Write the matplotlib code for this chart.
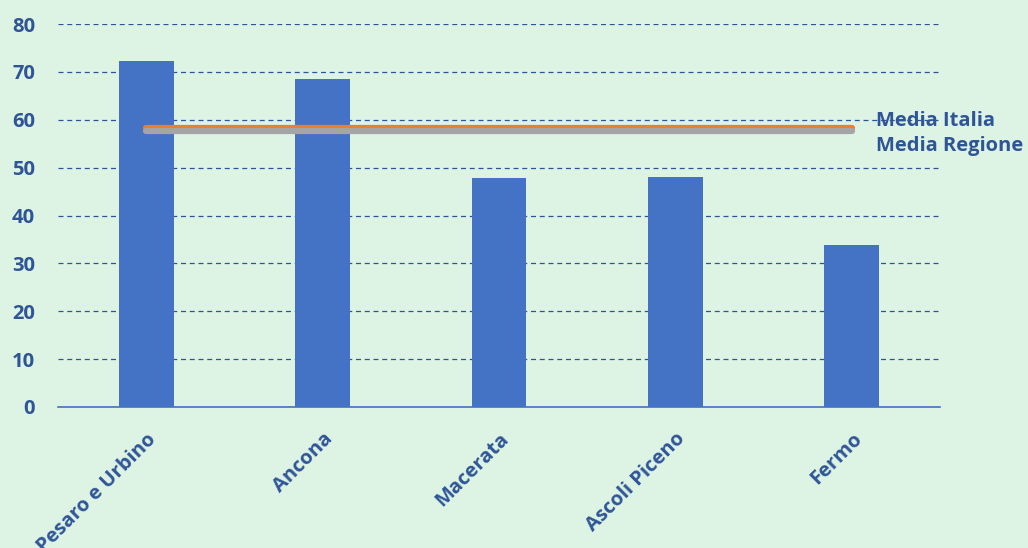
import matplotlib.pyplot as plt
import numpy as np

province = ["Pesaro e Urbino", "Ancona", "Macerata", "Ascoli Piceno", "Fermo"]
valori = [72.3, 68.6, 47.9, 48.1, 33.8]
media_italia = 58.3
media_regione = 57.6

BG = "#DDF3E4"
BLU = "#4472C4"
TESTO = "#2F5597"

plt.rcParams['font.family'] = ['Open Sans', 'DejaVu Sans']

fig = plt.figure(figsize=(10.28, 5.48), dpi=100, facecolor=BG)
ax = fig.add_axes([0.0564, 0.2573, 0.858, 0.6989], facecolor=BG)

x = np.arange(len(province))
ax.bar(x, valori, width=0.31, color=BLU, zorder=2)
ax.plot([x[0], x[-1]], [media_italia] * 2, color="#ED7D31", lw=4.5,
        solid_capstyle='round', zorder=3)
ax.plot([x[0], x[-1]], [media_regione] * 2, color="#A5A5A5", lw=4.5,
        solid_capstyle='round', zorder=4)

ax.text(x[-1] + 0.14, media_italia + 1.5, "Media Italia", color=TESTO,
        fontsize=14.5, fontweight='bold', va='center', ha='left', zorder=5)
ax.text(x[-1] + 0.14, media_regione - 3.0, "Media Regione", color=TESTO,
        fontsize=14.5, fontweight='bold', va='center', ha='left', zorder=5)

ax.set_xlim(-0.5, len(province) - 0.5)
ax.set_ylim(0, 80)
ax.set_yticks(range(0, 81, 10))
ax.yaxis.grid(True, linestyle=(0, (4, 3)), color=TESTO, lw=0.9, zorder=1)
ax.set_axisbelow(True)

ax.set_xticks(x)
ax.set_xticklabels(province, rotation=45, ha='right', rotation_mode='anchor')
for lab in ax.get_xticklabels() + ax.get_yticklabels():
    lab.set_color(TESTO)
    lab.set_fontweight('bold')
    lab.set_fontsize(14.5)
ax.tick_params(axis='both', length=0)
ax.tick_params(axis='x', pad=16)
ax.tick_params(axis='y', pad=16.5)

for s in ['top', 'right', 'left']:
    ax.spines[s].set_visible(False)
ax.spines['bottom'].set_color(BLU)
ax.spines['bottom'].set_linewidth(1.2)

fig.savefig("out.png", facecolor=BG)
